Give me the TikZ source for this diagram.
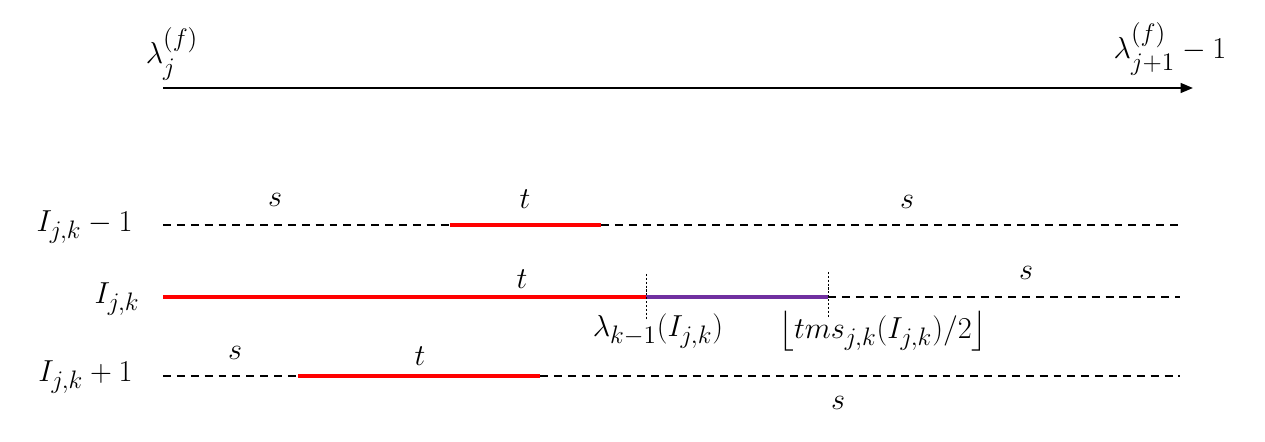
\documentclass[tikz,border=0pt]{standalone}
\usepackage{amsmath}
\usepackage{amssymb}
\usetikzlibrary{arrows.meta}

\definecolor{segred}{RGB}{255,0,0}
\definecolor{segpurple}{RGB}{112,48,160}

\tikzset{
  lbl/.style={font=\fontsize{19}{22}\selectfont, inner sep=0pt},
  sline/.style={dash pattern=on 4.5pt off 3.4pt, line width=0.8pt},
  tline/.style={segred, line width=2.3pt},
  pline/.style={segpurple, line width=2.3pt},
  guide/.style={dash pattern=on 1.2pt off 1pt, line width=0.4pt}
}

\begin{document}
\begin{tikzpicture}[x=0.02cm, y=-0.02cm]

\useasboundingbox (0,0) rectangle (1265,442);

% axis
\coordinate (a0) at (163,88);
\coordinate (a1) at (1193,88);
\node[lbl] (lamj) at (172,54) {\(\lambda_j^{(f)}\)};
\node[lbl] (lamjj) at (1170,49) {\(\lambda_{j+1}^{(f)}-1\)};
\draw[-{Triangle[length=7pt,width=5.5pt]}, line width=1.2pt] (a0) -- (a1);

% row above
\node[lbl, anchor=east] (row1) at (133,227) {\(I_{j,k}-1\)};
\coordinate (p10) at (163,225);
\coordinate (p11) at (450,225);
\coordinate (p12) at (601,225);
\coordinate (p13) at (1180,225);
\node[lbl] (s11) at (275,200) {\(s\)};
\node[lbl] (t11) at (525,199) {\(t\)};
\node[lbl] (s12) at (907,202) {\(s\)};
\draw[sline] (p10) -- (p11);
\draw[sline] (p12) -- (p13);
\draw[tline] (p11) -- (p12);

% row of the interval
\node[lbl, anchor=east] (row2) at (140,299) {\(I_{j,k}\)};
\coordinate (p20) at (163,297);
\coordinate (p21) at (646,297);
\coordinate (p22) at (828,297);
\coordinate (p23) at (1180,297);
\coordinate (g1) at (646,274);
\coordinate (g2) at (646,320);
\coordinate (g3) at (828,272);
\coordinate (g4) at (828,318);
\node[lbl] (t21) at (522,279) {\(t\)};
\node[lbl] (s21) at (1026,273) {\(s\)};
\node[lbl] (lamk) at (658,331) {\(\lambda_{k-1}(I_{j,k})\)};
\node[lbl] (tms) at (883,331) {\(\bigl\lfloor tms_{j,k}(I_{j,k})/2\bigr\rfloor\)};
\draw[tline] (p20) -- (p21);
\draw[pline] (p21) -- (p22);
\draw[sline] (p22) -- (p23);
\draw[guide] (g1) -- (g2);
\draw[guide] (g3) -- (g4);

% row below
\node[lbl, anchor=east] (row3) at (133,377) {\(I_{j,k}+1\)};
\coordinate (p30) at (163,376);
\coordinate (p31) at (298,376);
\coordinate (p32) at (540,376);
\coordinate (p33) at (1180,376);
\node[lbl] (s31) at (235,353) {\(s\)};
\node[lbl] (t31) at (420,356) {\(t\)};
\node[lbl] (s32) at (838,403) {\(s\)};
\draw[sline] (p30) -- (p31);
\draw[sline] (p32) -- (p33);
\draw[tline] (p31) -- (p32);

\end{tikzpicture}
\end{document}
